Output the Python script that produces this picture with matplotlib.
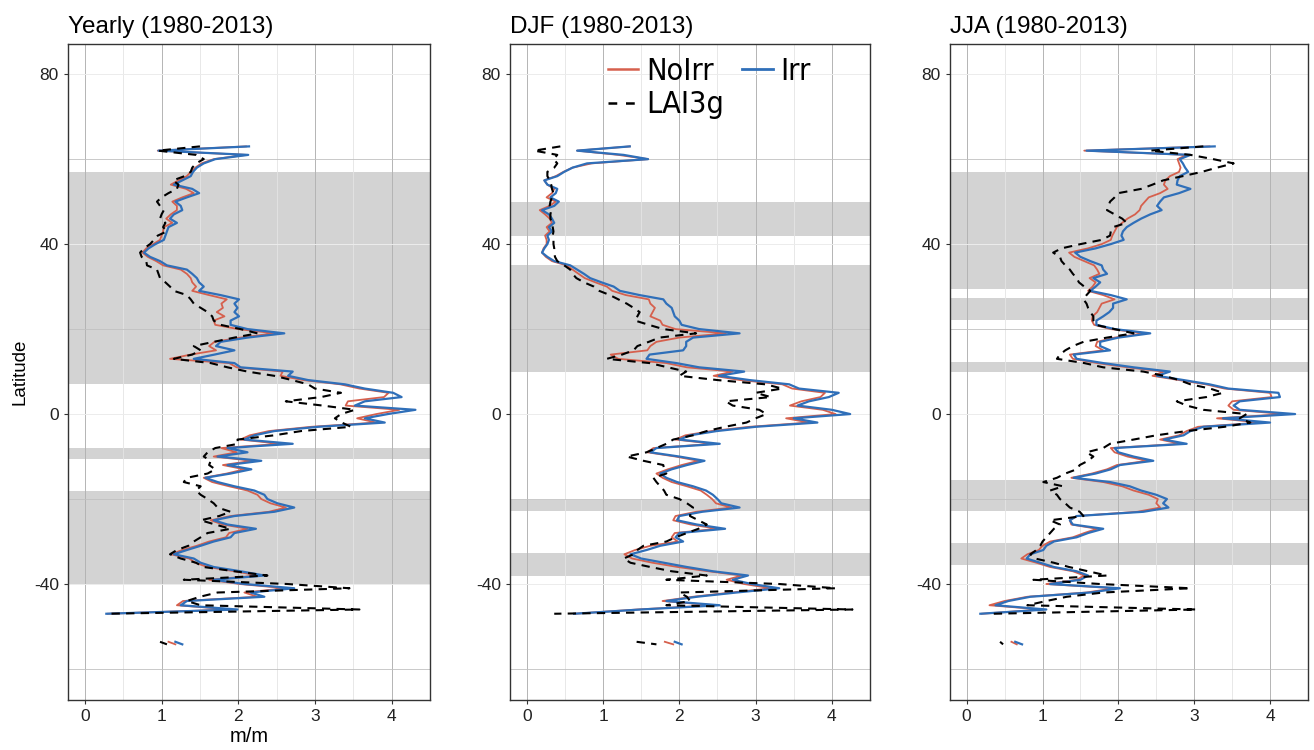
import matplotlib
matplotlib.use("Agg")
import matplotlib.pyplot as plt
from matplotlib.lines import Line2D
from matplotlib.font_manager import FontProperties

plt.rcParams["font.family"] = ["Liberation Sans", "DejaVu Sans"]
plt.rcParams["axes.unicode_minus"] = False

# latitude rows of the profiles, 63N .. 47S, 1 degree
LAT = list(range(63, -48, -1))
# small island piece near 54S
LAT_TIP = [-53.6, -54.2]

YR_NOIRR = [
    2.10, 0.95, 2.10, 1.68, 1.52, 1.44, 1.38, 1.33, 1.22, 1.12,
    1.32, 1.42, 1.27, 1.14, 1.20, 1.20, 1.12, 1.06, 1.14, 1.03,
    1.02, 1.00, 0.98, 0.89, 0.80, 0.75, 0.82, 0.93, 1.02, 1.25,
    1.33, 1.38, 1.40, 1.45, 1.40, 1.62, 1.85, 1.78, 1.80, 1.72,
    1.82, 1.68, 1.70, 2.00, 2.47, 2.03, 1.69, 1.62, 1.71, 1.38,
    1.11, 1.88, 1.98, 2.58, 2.55, 2.85, 3.33, 3.58, 3.96, 3.90,
    3.43, 3.40, 4.10, 3.80, 3.55, 3.80, 2.95, 2.40, 2.15, 2.03,
    2.55, 1.78, 1.98, 1.68, 2.18, 1.80, 2.08, 1.85, 1.55, 1.66,
    1.88, 2.12, 2.25, 2.30, 2.42, 2.62, 2.40, 1.90, 1.64, 1.80,
    2.12, 1.88, 1.84, 1.62, 1.46, 1.27, 1.12, 1.36, 1.44, 1.60,
    1.95, 2.26, 1.62, 2.02, 2.62, 2.08, 2.25, 1.28, 1.20, 1.92,
    0.30,
]
YR_IRR = [
    2.14, 0.96, 2.13, 1.70, 1.55, 1.46, 1.41, 1.38, 1.27, 1.16,
    1.40, 1.49, 1.33, 1.18, 1.25, 1.27, 1.16, 1.11, 1.20, 1.09,
    1.07, 1.05, 1.03, 0.92, 0.83, 0.77, 0.85, 0.98, 1.07, 1.33,
    1.40, 1.46, 1.49, 1.55, 1.49, 1.77, 2.01, 1.95, 1.99, 1.95,
    2.01, 1.90, 1.90, 2.12, 2.60, 2.12, 1.77, 1.71, 1.95, 1.69,
    1.42, 1.95, 2.03, 2.71, 2.65, 2.91, 3.39, 3.65, 4.02, 4.13,
    3.65, 3.52, 4.31, 3.95, 3.65, 3.91, 3.04, 2.47, 2.21, 2.08,
    2.71, 1.86, 2.12, 1.73, 2.30, 1.86, 2.17, 1.90, 1.57, 1.73,
    1.95, 2.21, 2.34, 2.38, 2.51, 2.73, 2.47, 1.95, 1.68, 1.86,
    2.23, 1.95, 1.90, 1.68, 1.51, 1.33, 1.16, 1.42, 1.51, 1.68,
    2.03, 2.34, 1.68, 2.08, 2.73, 2.16, 2.34, 1.33, 1.25, 1.99,
    0.28,
]
YR_LAI = [
    1.50, 0.95, 1.45, 1.55, 1.45, 1.40, 1.38, 1.30, 1.15, 1.22,
    1.20, 1.09, 1.00, 0.94, 0.98, 1.03, 1.00, 0.98, 1.05, 1.02,
    1.07, 0.95, 0.90, 0.85, 0.77, 0.72, 0.74, 0.80, 0.81, 0.94,
    0.96, 0.98, 1.05, 1.11, 1.16, 1.33, 1.38, 1.42, 1.51, 1.60,
    1.66, 1.68, 1.77, 2.03, 2.25, 1.95, 1.68, 1.42, 1.51, 1.40,
    1.16, 1.64, 1.86, 2.12, 2.47, 2.70, 2.91, 3.00, 3.34, 3.08,
    2.62, 3.10, 3.52, 3.34, 3.26, 3.35, 3.47, 2.82, 2.47, 1.99,
    2.00, 1.70, 1.60, 1.55, 1.64, 1.62, 1.70, 1.60, 1.33, 1.29,
    1.51, 1.45, 1.51, 1.60, 1.68, 1.73, 1.90, 1.75, 1.51, 1.70,
    1.90, 1.60, 1.51, 1.42, 1.35, 1.20, 1.11, 1.25, 1.45, 1.55,
    1.95, 2.38, 1.29, 2.64, 3.45, 1.73, 1.50, 1.33, 1.51, 3.58,
    0.28,
]

DJF_NOIRR = [
    1.35, 0.66, 1.20, 1.59, 0.85, 0.60, 0.48, 0.38, 0.23, 0.27,
    0.36, 0.33, 0.26, 0.38, 0.30, 0.17, 0.24, 0.30, 0.33, 0.26,
    0.30, 0.24, 0.26, 0.26, 0.22, 0.20, 0.25, 0.33, 0.52, 0.60,
    0.68, 0.76, 0.90, 1.05, 1.12, 1.30, 1.60, 1.62, 1.68, 1.65,
    1.62, 1.75, 1.78, 1.95, 2.61, 2.00, 1.70, 1.62, 1.58, 1.10,
    1.20, 1.83, 2.10, 2.70, 2.45, 2.80, 3.35, 3.48, 3.91, 3.85,
    3.60, 3.45, 3.88, 4.05, 3.40, 3.70, 2.92, 2.42, 2.08, 1.95,
    2.45, 1.66, 1.58, 1.95, 2.25, 2.03, 1.85, 1.70, 1.78, 1.90,
    2.10, 2.28, 2.36, 2.43, 2.48, 2.68, 2.22, 1.95, 1.92, 2.15,
    2.50, 1.94, 1.90, 1.98, 1.62, 1.42, 1.28, 1.38, 1.65, 1.98,
    2.38, 2.82, 2.62, 2.85, 3.20, 2.68, 2.18, 1.78, 2.45, 1.45,
    0.62,
]
DJF_IRR = [
    1.35, 0.66, 1.27, 1.59, 0.79, 0.60, 0.49, 0.40, 0.23, 0.27,
    0.40, 0.38, 0.31, 0.42, 0.36, 0.20, 0.29, 0.33, 0.36, 0.29,
    0.33, 0.27, 0.29, 0.27, 0.23, 0.20, 0.27, 0.36, 0.57, 0.66,
    0.75, 0.83, 0.98, 1.14, 1.22, 1.48, 1.79, 1.83, 1.90, 1.92,
    1.94, 2.00, 2.03, 2.26, 2.79, 2.18, 2.09, 2.09, 2.05, 1.61,
    1.57, 1.96, 2.26, 2.85, 2.52, 2.92, 3.44, 3.57, 4.09, 3.96,
    3.70, 3.55, 4.00, 4.24, 3.50, 3.81, 3.00, 2.49, 2.14, 2.00,
    2.53, 1.70, 1.62, 2.00, 2.33, 2.10, 1.90, 1.75, 1.83, 1.97,
    2.18, 2.35, 2.44, 2.50, 2.55, 2.79, 2.30, 2.00, 1.97, 2.23,
    2.60, 2.00, 1.95, 2.05, 1.75, 1.57, 1.36, 1.50, 1.80, 2.10,
    2.44, 2.90, 2.70, 2.95, 3.31, 2.75, 2.23, 1.83, 2.53, 1.49,
    0.62,
]
DJF_LAI = [
    0.44, 0.10, 0.40, 0.35, 0.40, 0.36, 0.27, 0.27, 0.30, 0.32,
    0.33, 0.35, 0.33, 0.31, 0.30, 0.32, 0.31, 0.31, 0.33, 0.34,
    0.35, 0.34, 0.35, 0.35, 0.36, 0.36, 0.37, 0.40, 0.49, 0.57,
    0.60, 0.65, 0.75, 0.88, 0.95, 1.09, 1.20, 1.31, 1.40, 1.48,
    1.45, 1.42, 1.60, 1.79, 2.22, 1.74, 1.60, 1.45, 1.40, 1.25,
    1.05, 1.61, 1.85, 2.09, 2.00, 2.50, 3.13, 3.35, 3.00, 3.20,
    2.61, 2.70, 3.05, 3.14, 3.00, 2.88, 2.60, 2.36, 2.18, 1.92,
    1.83, 1.70, 1.57, 1.31, 1.53, 1.79, 1.80, 1.83, 1.66, 1.70,
    1.75, 1.80, 1.83, 2.00, 2.10, 2.18, 2.15, 2.14, 2.25, 2.36,
    2.25, 2.10, 1.95, 1.83, 1.53, 1.45, 1.40, 1.27, 1.36, 1.62,
    1.90, 2.36, 1.83, 3.31, 4.05, 2.00, 2.10, 2.14, 1.83, 4.27,
    0.36,
]

JJA_NOIRR = [
    3.20, 1.55, 2.90, 2.78, 2.80, 2.82, 2.80, 2.68, 2.62, 2.60,
    2.65, 2.55, 2.40, 2.35, 2.30, 2.28, 2.22, 2.12, 2.05, 1.98,
    1.95, 1.92, 1.90, 1.78, 1.60, 1.35, 1.42, 1.55, 1.68, 1.72,
    1.75, 1.62, 1.70, 1.66, 1.60, 1.80, 1.95, 1.78, 1.75, 1.72,
    1.66, 1.65, 1.68, 1.90, 2.35, 1.95, 1.72, 1.70, 1.80, 1.36,
    1.40, 1.72, 2.12, 2.60, 2.45, 2.80, 3.15, 3.40, 4.00, 4.02,
    3.50, 3.45, 3.52, 4.20, 3.30, 3.88, 3.05, 2.90, 2.80, 2.55,
    2.82, 1.90, 1.95, 2.12, 2.38, 1.98, 1.85, 1.65, 1.38, 1.80,
    2.05, 2.20, 2.40, 2.52, 2.50, 2.55, 2.25, 1.45, 1.36, 1.38,
    1.72, 1.55, 1.40, 1.10, 1.00, 0.95, 0.80, 0.72, 0.92, 1.10,
    1.40, 1.55, 1.45, 1.05, 1.95, 1.58, 0.80, 0.50, 0.30, 1.00,
    0.20,
]
JJA_IRR = [
    3.27, 1.58, 2.95, 2.81, 2.85, 2.88, 2.92, 2.81, 2.78, 2.77,
    2.95, 2.80, 2.60, 2.55, 2.51, 2.57, 2.42, 2.30, 2.20, 2.11,
    2.06, 2.04, 2.07, 1.90, 1.70, 1.43, 1.50, 1.63, 1.78, 1.80,
    1.85, 1.67, 1.76, 1.70, 1.63, 1.90, 2.11, 1.93, 1.93, 1.88,
    1.80, 1.71, 1.71, 1.95, 2.42, 2.00, 1.76, 1.76, 1.89, 1.41,
    1.45, 1.80, 2.20, 2.68, 2.51, 2.86, 3.20, 3.45, 4.11, 4.13,
    3.60, 3.52, 3.60, 4.33, 3.38, 4.00, 3.12, 2.95, 2.86, 2.60,
    2.90, 1.95, 2.00, 2.20, 2.46, 2.02, 1.90, 1.70, 1.41, 1.89,
    2.15, 2.30, 2.50, 2.64, 2.59, 2.66, 2.33, 1.45, 1.36, 1.40,
    1.80, 1.60, 1.45, 1.15, 1.05, 1.01, 0.84, 0.79, 0.97, 1.15,
    1.45, 1.60, 1.50, 1.10, 2.02, 1.63, 0.84, 0.55, 0.38, 1.05,
    0.18,
]
JJA_LAI = [
    3.12, 2.42, 2.95, 3.25, 3.52, 3.30, 3.10, 2.85, 2.59, 2.45,
    2.30, 2.00, 1.95, 1.89, 1.87, 1.85, 1.95, 2.05, 2.11, 1.93,
    1.90, 1.89, 1.78, 1.50, 1.25, 1.14, 1.23, 1.25, 1.30, 1.36,
    1.40, 1.45, 1.48, 1.55, 1.63, 1.58, 1.54, 1.58, 1.60, 1.63,
    1.67, 1.67, 1.70, 1.95, 2.20, 1.85, 1.54, 1.40, 1.30, 1.23,
    1.19, 1.55, 1.80, 2.33, 2.60, 2.80, 2.95, 3.21, 3.38, 3.16,
    2.77, 2.90, 3.12, 3.69, 3.60, 3.74, 3.40, 2.90, 2.50, 2.20,
    1.89, 1.80, 1.58, 1.67, 1.60, 1.49, 1.45, 1.30, 1.19, 1.01,
    1.27, 1.10, 1.19, 1.23, 1.30, 1.36, 1.49, 1.54, 1.10, 1.23,
    1.15, 1.10, 1.05, 1.00, 0.97, 0.92, 0.84, 0.90, 1.15, 1.35,
    1.60, 1.85, 0.88, 1.76, 2.95, 1.80, 1.32, 1.05, 0.80, 3.03,
    0.35,
]

# island piece (noirr, irr, lai3g) per panel
YR_TIP = ([1.09, 1.18], [1.18, 1.27], [0.98, 1.07])
DJF_TIP = ([1.81, 1.92], [1.94, 2.03], [1.44, 1.70])
JJA_TIP = ([0.59, 0.66], [0.64, 0.73], [0.44, 0.48])

# grey latitude bands per panel (lower, upper)
YR_BANDS = [(7, 57), (-10.5, -8), (-40, -18)]
DJF_BANDS = [(42, 50), (10, 35), (-22.8, -20.2), (-38, -32.7)]
JJA_BANDS = [(29.4, 57), (22.1, 27.3), (9.9, 12.2), (-22.8, -15.5), (-35.5, -30.4)]

TITLES = ["Yearly (1980-2013)", "DJF (1980-2013)", "JJA (1980-2013)"]

RED = "#d6604d"
BLUE = "#2f6fb9"
EDGE = "#333333"


def draw_panel(ax, title, noirr, irr, lai, tip, bands):
    for lo, hi in bands:
        ax.axhspan(lo, hi, color="#d3d3d3", lw=0, zorder=0.2)

    ax.set_axisbelow(True)
    ax.set_xlim(-0.22, 4.5)
    ax.set_ylim(-67.3, 87.1)
    ax.set_xticks([0, 1, 2, 3, 4])
    ax.set_xticks([0.5, 1.5, 2.5, 3.5], minor=True)
    ax.set_yticks([-40, 0, 40, 80])
    ax.set_yticks([-60, -20, 20, 60], minor=True)
    ax.grid(True, which="major", axis="x", color="#b4b4b4", lw=0.7)
    ax.grid(True, which="minor", axis="x", color="#e4e4e4", lw=0.6)
    ax.grid(True, which="major", axis="y", color="#ececec", lw=0.7)
    ax.grid(True, which="minor", axis="y", color="#c0c0c0", lw=0.6)

    ax.plot(noirr, LAT, color=RED, lw=1.3, zorder=3)
    ax.plot(irr, LAT, color=BLUE, lw=1.6, zorder=4)
    ax.plot(lai, LAT, color="black", lw=1.5, ls=(0, (4, 3)), zorder=5)
    ax.plot(tip[0], LAT_TIP, color=RED, lw=1.3, zorder=3)
    ax.plot(tip[1], LAT_TIP, color=BLUE, lw=1.6, zorder=4)
    ax.plot(tip[2], LAT_TIP, color="black", lw=1.5, ls=(0, (4, 3)), zorder=5)

    ax.set_title(title, loc="left", fontsize=17.5, pad=8)
    ax.tick_params(which="major", length=3, color=EDGE, labelsize=12.5,
                   labelcolor="#222222")
    ax.tick_params(which="minor", length=0)
    for sp in ax.spines.values():
        sp.set_color(EDGE)
        sp.set_linewidth(1.0)


fig = plt.figure(figsize=(13.14, 7.5), dpi=100)
W, H = 1314.0, 750.0
boxes = [(68, 430), (510, 870), (950, 1308)]
axes = []
for x0, x1 in boxes:
    axes.append(fig.add_axes([x0 / W, (H - 700) / H, (x1 - x0) / W, 656 / H]))

draw_panel(axes[0], TITLES[0], YR_NOIRR, YR_IRR, YR_LAI, YR_TIP, YR_BANDS)
draw_panel(axes[1], TITLES[1], DJF_NOIRR, DJF_IRR, DJF_LAI, DJF_TIP, DJF_BANDS)
draw_panel(axes[2], TITLES[2], JJA_NOIRR, JJA_IRR, JJA_LAI, JJA_TIP, JJA_BANDS)

axes[0].set_ylabel("Latitude", fontsize=13.5, labelpad=4)
axes[0].set_xlabel("m/m", fontsize=14.5, labelpad=2)

handles = [
    Line2D([], [], color=RED, lw=1.8),
    Line2D([], [], color="black", lw=1.8, ls=(0, (3.5, 3.5))),
    Line2D([], [], color=BLUE, lw=2.0),
]
leg_font = FontProperties(family="DejaVu Sans", stretch="condensed", size=22)
axes[1].legend(handles, ["NoIrr", "LAI3g", "Irr"], ncol=2, loc="upper left",
               bbox_to_anchor=(0.255, 0.99), frameon=False, prop=leg_font,
               handlelength=1.0, handletextpad=0.25, columnspacing=0.6,
               labelspacing=0.15, borderpad=0.0, borderaxespad=0.2)

fig.savefig("out.png", dpi=100)
